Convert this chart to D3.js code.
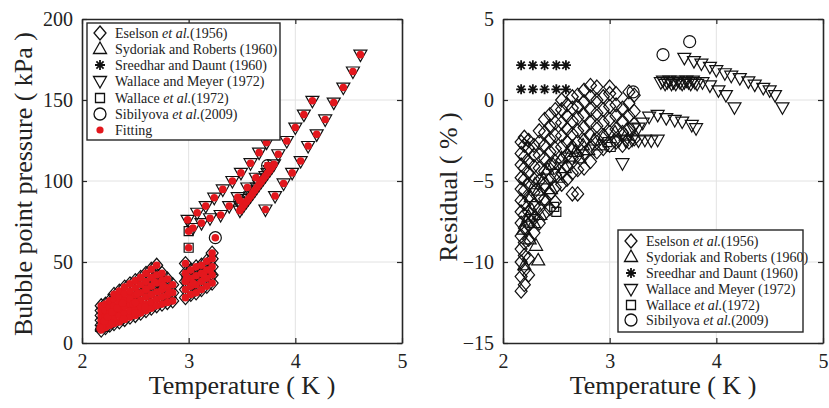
<!DOCTYPE html>
<html>
<head>
<meta charset="utf-8">
<script src="https://cdn.jsdelivr.net/npm/d3@7"></script>
<style>
  body { margin: 0; background: #fff; }
  text { font-family: "Liberation Serif", "Times New Roman", serif; fill: #222; }
</style>
</head>
<body>
<script>
// ---- data ----
// axis ticks
var xTicks = [2, 3, 4, 5];
var pTicks = [0, 50, 100, 150, 200];
var rTicks = [-15, -10, -5, 0, 5];

// left panel: bubble point pressure (T in K, P in kPa), columns of [T, [P...]]
var eselsonP = [
  [2.18, [8, 11, 14, 17, 20, 23]],
  [2.22, [9.5, 13, 16.5, 20, 24]],
  [2.26, [11, 14.5, 18, 22, 26]],
  [2.30, [12, 15.5, 19, 23, 27, 30]],
  [2.35, [13, 17, 21, 25, 29, 32]],
  [2.40, [14.5, 18.5, 22.5, 26.5, 30.5, 34.5]],
  [2.45, [16, 20, 24, 28, 32, 36.5]],
  [2.50, [17, 21, 25, 29.5, 34, 38.5]],
  [2.55, [18.5, 22.5, 26.5, 31, 36, 40.5]],
  [2.60, [20, 24, 28.5, 33, 38, 43]],
  [2.65, [21.5, 25.5, 30, 35, 40.5, 45.5]],
  [2.70, [23, 27, 31.5, 37, 42, 48]],
  [2.75, [24, 28.5, 33, 38.5, 43]],
  [2.80, [25, 29.5, 34, 39.5]],
  [2.85, [26, 31, 36]],
  [2.97, [28, 33, 38, 43, 49]],
  [3.02, [30, 35, 40, 45]],
  [3.07, [31, 36, 41.5, 47]],
  [3.12, [33, 38, 43, 48]],
  [3.17, [35, 40, 45, 50.5]],
  [3.22, [37, 42, 47, 52, 55.5]]
];
var sydoriakP = [[2.19, 10], [2.21, 13.5], [2.24, 16], [2.28, 19], [2.33, 21.5], [2.38, 24.5],
  [2.45, 27], [2.52, 30.5], [2.60, 33.5], [2.68, 37.5], [2.76, 35.5], [2.82, 31],
  [3.04, 37], [3.14, 42], [3.20, 45]];
var sreedharP = [[2.17, 9], [2.28, 12], [2.39, 15], [2.50, 18.5], [2.59, 22]];
var wallaceMeyerP = [
  [3.72, 82.4], [3.81, 90.7], [3.89, 98.5], [3.97, 105], [4.05, 112.3], [4.12, 121.6],
  [4.20, 128.8], [4.28, 138], [4.36, 148.4], [4.45, 157.7], [4.54, 167.6], [4.61, 178],
  [3.48, 81.7], [3.50, 83.5], [3.52, 85.3], [3.54, 87.1], [3.56, 88.9], [3.58, 90.6],
  [3.60, 92.4], [3.62, 94.2], [3.64, 96.0], [3.66, 97.8], [3.68, 99.6], [3.70, 101.4],
  [3.72, 103.1], [3.74, 104.9], [3.76, 106.7], [3.78, 108.5], [3.80, 110.3],
  [3.84, 116.5], [3.92, 124.7], [4.00, 133], [4.08, 141], [4.16, 149.5],
  [2.99, 76], [3.08, 80.4], [3.16, 84.5], [3.24, 89.7], [3.32, 94.8], [3.41, 100],
  [3.49, 105], [3.58, 111], [3.66, 117.5], [3.73, 123.7],
  [3.04, 71], [3.12, 74], [3.20, 77], [3.30, 79], [3.38, 84.5], [3.46, 90], [3.55, 96], [3.63, 102]
];
var wallaceP = [[3.0, 69], [3.0, 58.8], [2.48, 24], [2.50, 25], [2.98, 40]];
var sibilyovaP = [[3.25, 65], [3.48, 88], [3.74, 109.5]];

// right panel: residual (%), columns of [T, [R...]]
var eselsonR = [
  [2.17, [-11.8, -10.9, -10.0, -9.2, -8.4, -7.6, -6.9, -6.2, -5.5, -4.8, -4.0, -3.3, -2.6]],
  [2.20, [-11.4, -10.5, -9.6, -8.8, -7.9, -7.1, -6.4, -5.6, -4.9, -4.2, -3.5, -2.8, -2.3]],
  [2.24, [-10.8, -9.8, -8.6, -7.7, -6.9, -6.0, -5.2, -4.5, -3.8, -3.0, -2.5]],
  [2.29, [-8.2, -7.3, -6.5, -5.7, -4.9, -4.1, -3.4, -2.8]],
  [2.34, [-7.6, -6.7, -5.9, -5.0, -4.2, -3.4, -2.6, -1.9]],
  [2.39, [-7.0, -6.1, -5.2, -4.4, -3.6, -2.8, -2.0, -1.2]],
  [2.44, [-6.7, -5.8, -4.9, -4.0, -3.2, -2.4, -1.6, -0.9]],
  [2.49, [-6.3, -5.4, -4.6, -3.8, -3.0, -2.2, -1.4, -0.6]],
  [2.55, [-5.2, -4.5, -3.7, -2.9, -2.2, -1.4, -0.6, 0.0]],
  [2.60, [-4.9, -4.1, -3.4, -2.6, -1.8, -1.0, -0.3]],
  [2.65, [-5.8, -4.5, -3.6, -2.9, -2.1, -1.3, -0.5, 0.2]],
  [2.70, [-5.8, -4.3, -3.4, -2.6, -1.9, -1.1, -0.4, 0.3]],
  [2.76, [-4.2, -3.3, -2.5, -1.7, -0.9, -0.1, 0.6]],
  [2.82, [-3.8, -3.0, -2.2, -1.4, -0.6, 0.2, 0.9]],
  [2.88, [-3.2, -2.4, -1.6, -0.8, 0.0, 0.8]],
  [2.94, [-3.0, -2.2, -1.4, -0.6, 0.2]],
  [3.00, [-2.8, -2.0, -1.2, -0.4, 0.4, 0.8]],
  [3.06, [-2.6, -1.8, -1.0, -0.3, 0.4]],
  [3.12, [-2.8, -2.0, -1.3, -0.5]],
  [3.18, [-2.6, -1.8, -1.0, -0.2, 0.5]],
  [3.23, [-2.4, -1.5, -0.7, 0.3]]
];
var sydoriakR = [[2.31, -9.0], [2.33, -9.9], [2.20, -10.2], [2.25, -8.6], [2.22, -7.5], [2.27, -6.8],
  [2.35, -7.1], [2.40, -6.2], [2.45, -5.5], [2.52, -4.8], [2.58, -4.2], [2.62, -3.5], [2.68, -3.2],
  [2.75, -2.8], [2.85, -2.5], [2.95, -2.2], [3.05, -2.0], [3.15, -2.2], [2.30, -5.2], [2.42, -4.3],
  [2.26, -6.0], [2.33, -5.6], [2.38, -4.9], [2.47, -4.0], [2.55, -3.6], [2.64, -3.0], [2.72, -3.6],
  [2.80, -3.1], [2.90, -2.8], [2.24, -7.2], [2.19, -8.0], [2.29, -7.6]];
var sreedharR = [[2.17, 2.15], [2.28, 2.15], [2.39, 2.15], [2.50, 2.15], [2.59, 2.15],
  [2.17, 0.66], [2.28, 0.66], [2.39, 0.66], [2.50, 0.66], [2.59, 0.66]];
var wallaceMeyerR = [
  [3.70, 2.6], [3.79, 2.4], [3.86, 2.25], [3.94, 2.05], [4.00, 1.85], [4.08, 1.65], [4.14, 1.5],
  [4.22, 1.35], [4.30, 1.15], [4.36, 0.95], [4.44, 0.75], [4.50, 0.6], [4.55, 0.3], [4.62, -0.45],
  [3.48, 1.1], [3.50, 1.2], [3.52, 1.0], [3.54, 1.1], [3.56, 1.2], [3.58, 1.0], [3.60, 1.1],
  [3.62, 1.0], [3.64, 1.2], [3.66, 1.1], [3.68, 1.0], [3.70, 1.1], [3.72, 1.2], [3.74, 1.1],
  [3.76, 1.0], [3.78, 1.2], [3.80, 1.1], [3.82, 1.0], [3.87, 1.1], [3.94, 0.9], [4.02, 0.6],
  [4.09, 0.3], [4.17, -0.45],
  [3.09, -2.45], [3.15, -2.5], [3.21, -2.45], [3.27, -2.5], [3.33, -2.45], [3.39, -2.5], [3.45, -2.45],
  [3.12, -3.9],
  [3.22, -1.75], [3.27, -1.7], [3.31, -1.4], [3.37, -1.03], [3.45, -0.92], [3.53, -1.12],
  [3.61, -1.23], [3.68, -1.33], [3.77, -1.54], [3.81, -1.74]
];
var wallaceR = [[2.48, -6.6], [2.50, -6.9], [2.98, -2.6], [3.01, -2.9]];
var sibilyovaR = [[3.22, 0.5], [3.50, 2.8], [3.75, 3.6]];

var legendNames = [
  ["Eselson ", "et al.", "(1956)"],
  ["Sydoriak and Roberts (1960)", "", ""],
  ["Sreedhar and Daunt (1960)", "", ""],
  ["Wallace and Meyer (1972)", "", ""],
  ["Wallace ", "et al.", "(1972)"],
  ["Sibilyova ", "et al.", "(2009)"],
  ["Fitting", "", ""]
];

// ---- drawing ----
var svg = d3.select("body").append("svg").attr("width", 829).attr("height", 408);

var x1 = d3.scaleLinear().domain([2, 5]).range([82, 402]);
var yP = d3.scaleLinear().domain([0, 200]).range([343, 19]);
var x2 = d3.scaleLinear().domain([2, 5]).range([503, 823]);
var yR = d3.scaleLinear().domain([-15, 5]).range([343, 19]);

// marker shapes
var shapes = {
  diamond: "M0,-7L6,0L0,7L-6,0Z",
  up: "M0,-7L6.5,4.5L-6.5,4.5Z",
  down: "M0,7L6.5,-4.5L-6.5,-4.5Z",
  square: "M-4.5,-4.5H4.5V4.5H-4.5Z",
  circle: "M6,0A6,6 0 1 1 -6,0A6,6 0 1 1 6,0Z",
  star: "M-5,0H5M0,-5V5M-3.6,-3.6L3.6,3.6M-3.6,3.6L3.6,-3.6"
};
var legendShapes = ["diamond", "up", "star", "down", "square", "circle", "dot"];

function flat(cols) {
  return cols.flatMap(function(c) { return c[1].map(function(v) { return [c[0], v]; }); });
}

function drawAxes(x, y, yTicks) {
  var g = svg.append("g");
  var r = x.range(), h = y.range();
  // grid
  g.append("g").selectAll("line").data(xTicks.slice(1, -1)).enter().append("line")
    .attr("x1", function(d) { return x(d); }).attr("x2", function(d) { return x(d); })
    .attr("y1", h[0]).attr("y2", h[1]).attr("stroke", "#e2e2e2");
  g.append("g").selectAll("line").data(yTicks.slice(1, -1)).enter().append("line")
    .attr("y1", function(d) { return y(d); }).attr("y2", function(d) { return y(d); })
    .attr("x1", r[0]).attr("x2", r[1]).attr("stroke", "#e2e2e2");
  // axes with inward ticks
  var fmt = d3.format("d");
  var bottom = g.append("g").attr("transform", "translate(0," + h[0] + ")")
    .call(d3.axisBottom(x).tickValues(xTicks).tickFormat(fmt).tickSizeInner(-5).tickSizeOuter(0).tickPadding(11));
  var left = g.append("g").attr("transform", "translate(" + r[0] + ",0)")
    .call(d3.axisLeft(y).tickValues(yTicks).tickFormat(fmt).tickSizeInner(-5).tickSizeOuter(0).tickPadding(9));
  var top = g.append("g").attr("transform", "translate(0," + h[1] + ")")
    .call(d3.axisTop(x).tickValues(xTicks).tickSizeInner(-5).tickSizeOuter(0).tickFormat(""));
  var right = g.append("g").attr("transform", "translate(" + r[1] + ",0)")
    .call(d3.axisRight(y).tickValues(yTicks).tickSizeInner(-5).tickSizeOuter(0).tickFormat(""));
  [bottom, left, top, right].forEach(function(a) {
    a.attr("font-family", null);
    a.select(".domain").attr("stroke", "#262626").attr("stroke-width", 1.6);
    a.selectAll(".tick line").attr("stroke", "#262626").attr("stroke-width", 1.2);
    a.selectAll(".tick text").style("font-size", "20px").attr("fill", "#262626")
      .style("font-family", "'Liberation Serif', serif");
  });
}

function drawMarkers(x, y, pts, shape) {
  svg.append("g").selectAll("path").data(pts).enter().append("path")
    .attr("d", shapes[shape])
    .attr("transform", function(d) { return "translate(" + x(d[0]) + "," + y(d[1]) + ")"; })
    .attr("fill", "none").attr("stroke", "#111")
    .attr("stroke-width", shape === "star" ? 1.8 : 1.2);
}

function drawDots(x, y, pts) {
  svg.append("g").selectAll("circle").data(pts).enter().append("circle")
    .attr("cx", function(d) { return x(d[0]); })
    .attr("cy", function(d) { return y(d[1]); })
    .attr("r", 3.8).attr("fill", "#e3171d");
}

function drawLegend(bx, by, bw, bh, rows, n) {
  var g = svg.append("g");
  g.append("rect").attr("x", bx).attr("y", by).attr("width", bw).attr("height", bh)
    .attr("fill", "#fff").attr("stroke", "#262626").attr("stroke-width", 1.4);
  for (var i = 0; i < n; i++) {
    var cy = rows[i];
    if (legendShapes[i] === "dot") {
      g.append("circle").attr("cx", bx + 13).attr("cy", cy).attr("r", 3.6).attr("fill", "#e3171d");
    } else {
      g.append("path").attr("d", shapes[legendShapes[i]])
        .attr("transform", "translate(" + (bx + 13) + "," + cy + ")")
        .attr("fill", "none").attr("stroke", "#111")
        .attr("stroke-width", legendShapes[i] === "star" ? 1.8 : 1.3);
    }
    var t = g.append("text").attr("x", bx + 28).attr("y", cy).attr("dy", "0.35em")
      .style("font-size", "14px");
    t.append("tspan").text(legendNames[i][0]);
    if (legendNames[i][1]) {
      t.append("tspan").style("font-style", "italic").text(legendNames[i][1]);
      t.append("tspan").text(legendNames[i][2]);
    }
  }
}

// left panel
drawAxes(x1, yP, pTicks);
var allP = [];
[[flat(eselsonP), "diamond"], [sydoriakP, "up"], [sreedharP, "star"],
 [wallaceMeyerP, "down"], [wallaceP, "square"], [sibilyovaP, "circle"]].forEach(function(s) {
  drawMarkers(x1, yP, s[0], s[1]);
  allP = allP.concat(s[0]);
});
drawDots(x1, yP, allP);
drawLegend(87, 23, 193, 117, [33, 49, 65, 81, 98, 114, 130], 7);

// right panel
drawAxes(x2, yR, rTicks);
[[flat(eselsonR), "diamond"], [sydoriakR, "up"], [sreedharR, "star"],
 [wallaceMeyerR, "down"], [wallaceR, "square"], [sibilyovaR, "circle"]].forEach(function(s) {
  drawMarkers(x2, yR, s[0], s[1]);
});
drawLegend(618, 230, 185, 102, [241, 257, 273, 289, 305, 320], 6);

// axis titles
svg.append("text").attr("x", 242).attr("y", 394).attr("text-anchor", "middle")
  .style("font-size", "26px").text("Temperature ( K )");
svg.append("text").attr("x", 663).attr("y", 394).attr("text-anchor", "middle")
  .style("font-size", "26px").text("Temperature ( K )");
svg.append("text").attr("transform", "translate(32,184) rotate(-90)").attr("text-anchor", "middle")
  .style("font-size", "26px").text("Bubble point pressure ( kPa )");
svg.append("text").attr("transform", "translate(457,187) rotate(-90)").attr("text-anchor", "middle")
  .style("font-size", "26px").text("Residual ( % )");
</script>
</body>
</html>
